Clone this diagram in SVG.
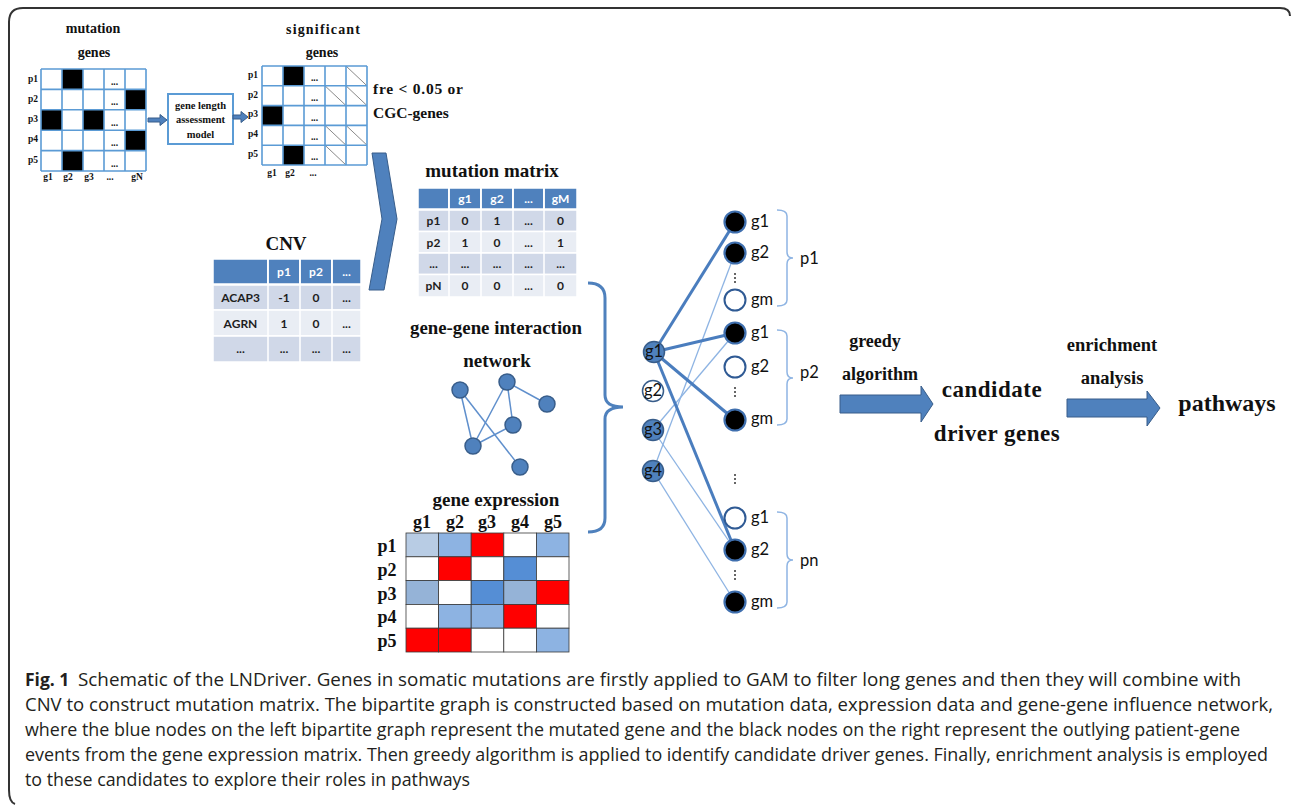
<svg xmlns="http://www.w3.org/2000/svg" width="1292" height="806" viewBox="0 0 1292 806">
  <style>
    .serif { font-family: "Liberation Serif", "Times New Roman", serif; font-weight: bold; fill: #111; }
    .sans { font-family: Lato, "Liberation Sans", Arial, sans-serif; font-weight: bold; }
    .tiny { font-size: 9.5px; }
    .grid { fill: none; stroke: #5b9bd5; stroke-width: 1.6; }
    .blk { fill: #000; }
    .diag { stroke: #8a8a8a; stroke-width: 1; }
    .hdr { fill: #4f81bd; stroke: #fff; stroke-width: 1.5; }
    .rowA { fill: #d0d8e8; stroke: #fff; stroke-width: 1.5; }
    .rowB { fill: #e9edf4; stroke: #fff; stroke-width: 1.5; }
    .htxt { fill: #fff; font-size: 12px; text-anchor: middle; }
    .btxt { fill: #1e1e1e; font-size: 12px; text-anchor: middle; }
    .blockarrow { fill: #4f81bd; stroke: #385d8a; stroke-width: 1; }
    .net-edge { stroke: #5f8fcc; stroke-width: 1.5; }
    .net-node { fill: #4f81bd; stroke: #385d8a; stroke-width: 1.5; }
    .thick { stroke: #4a7dbe; stroke-width: 3; }
    .thin { stroke: #8eb4e3; stroke-width: 1.3; }
    .lnode { stroke: #385d8a; stroke-width: 1.5; }
    .rblack { fill: #000; stroke: #3f6fae; stroke-width: 2.2; }
    .rwhite { fill: #fff; stroke: #2f5a94; stroke-width: 2; }
    .lbl { font-family: Lato, "Liberation Sans", Arial, sans-serif; font-size: 16.5px; fill: #111; }
    .brace { fill: none; stroke: #8eb4e3; stroke-width: 1.5; }
    .cap { font-family: "Open Sans", "Liberation Sans", Arial, sans-serif; font-size: 17.5px; fill: #231f20; }
    .hm { stroke: #3a3a3a; stroke-width: 0.8; }
  </style>

  <!-- outer frame -->
  <path d="M1290,16 Q1290,8 1280,8 L23,8 Q9,8 9,22 L9,790 Q9,802 15,804" fill="none" stroke="#333" stroke-width="2"/>

  <!-- mutation genes matrix -->
  <g id="mutation-genes">
    <text class="serif" x="93" y="33" font-size="14" text-anchor="middle">mutation</text>
    <text class="serif" x="94" y="57" font-size="14" text-anchor="middle">genes</text>
    <rect x="41" y="69" width="105" height="102" fill="#fff"/>
    <rect class="blk" x="62" y="69" width="21" height="20.4"/>
    <rect class="blk" x="125" y="89.4" width="21" height="20.4"/>
    <rect class="blk" x="41" y="109.8" width="21" height="20.4"/>
    <rect class="blk" x="83" y="109.8" width="21" height="20.4"/>
    <rect class="blk" x="125" y="130.2" width="21" height="20.4"/>
    <rect class="blk" x="62" y="150.6" width="21" height="20.4"/>
    <path class="grid" d="M41,69V171M62,69V171M83,69V171M104,69V171M125,69V171M146,69V171M41,69H146M41,89.4H146M41,109.8H146M41,130.2H146M41,150.6H146M41,171H146"/>
    <g class="serif tiny" text-anchor="middle">
      <text x="33" y="82">p1</text>
      <text x="33" y="102">p2</text>
      <text x="33" y="122">p3</text>
      <text x="33" y="142">p4</text>
      <text x="33" y="163">p5</text>
      <text x="48" y="180">g1</text>
      <text x="68" y="180">g2</text>
      <text x="89" y="180">g3</text>
      <text x="110" y="180">...</text>
      <text x="137" y="180">gN</text>
      <text x="114.5" y="85">...</text>
      <text x="114.5" y="105">...</text>
      <text x="114.5" y="126">...</text>
      <text x="114.5" y="146">...</text>
      <text x="114.5" y="167">...</text>
    </g>
  </g>

  <!-- gene length assessment model -->
  <g id="gam">
    <path class="blockarrow" d="M148,118 H160 V114.5 L167,120 L160,125.5 V122 H148 Z"/>
    <rect x="168" y="94" width="65" height="50" fill="#fff" stroke="#5b9bd5" stroke-width="2"/>
    <g class="serif" font-size="10.5" text-anchor="middle">
      <text x="200.5" y="109">gene length</text>
      <text x="200.5" y="123">assessment</text>
      <text x="200.5" y="138">model</text>
    </g>
    <path class="blockarrow" d="M233,115 H241 V111.5 L248,117 L241,122.5 V119 H233 Z"/>
  </g>

  <!-- significant genes matrix -->
  <g id="significant-genes">
    <text class="serif" x="323" y="34" font-size="14" text-anchor="middle" textLength="74" lengthAdjust="spacing">significant</text>
    <text class="serif" x="322" y="57" font-size="14" text-anchor="middle">genes</text>
    <rect x="262" y="66" width="105" height="99" fill="#fff"/>
    <rect class="blk" x="283" y="66" width="21" height="19.8"/>
    <rect class="blk" x="262" y="105.6" width="21" height="19.8"/>
    <rect class="blk" x="283" y="145.2" width="21" height="19.8"/>
    <g class="diag">
      <line x1="346" y1="66" x2="367" y2="85.8"/>
      <line x1="325" y1="85.8" x2="346" y2="105.6"/>
      <line x1="346" y1="85.8" x2="367" y2="105.6"/>
      <line x1="325" y1="125.4" x2="346" y2="145.2"/>
      <line x1="346" y1="125.4" x2="367" y2="145.2"/>
      <line x1="325" y1="145.2" x2="346" y2="165"/>
    </g>
    <path class="grid" d="M262,66V165M283,66V165M304,66V165M325,66V165M346,66V165M367,66V165M262,66H367M262,85.8H367M262,105.6H367M262,125.4H367M262,145.2H367M262,165H367"/>
    <g class="serif tiny" text-anchor="middle">
      <text x="253" y="78">p1</text>
      <text x="253" y="98">p2</text>
      <text x="253" y="117">p3</text>
      <text x="253" y="137">p4</text>
      <text x="253" y="157">p5</text>
      <text x="272" y="176">g1</text>
      <text x="290" y="176">g2</text>
      <text x="313" y="176">...</text>
      <text x="314.5" y="81">...</text>
      <text x="314.5" y="101">...</text>
      <text x="314.5" y="121">...</text>
      <text x="314.5" y="140">...</text>
      <text x="314.5" y="160">...</text>
    </g>
    <text class="serif" x="373" y="94" font-size="15.5" textLength="90" lengthAdjust="spacing">fre &lt; 0.05 or</text>
    <text class="serif" x="373" y="118" font-size="15.5">CGC-genes</text>
  </g>

  <!-- merge chevron -->
  <g id="merge-chevron">
    <path class="blockarrow" d="M372,153 L386,153 L397,219 L384,290 L369,290 L382,219 Z"/>
  </g>

  <!-- mutation matrix table -->
  <g id="mutation-matrix">
    <text class="serif" x="492" y="177" font-size="19" text-anchor="middle">mutation matrix</text>
    <rect class="hdr" x="418" y="188" width="31" height="21"/>
    <rect class="hdr" x="449" y="188" width="32" height="21"/>
    <rect class="hdr" x="481" y="188" width="32" height="21"/>
    <rect class="hdr" x="513" y="188" width="31" height="21"/>
    <rect class="hdr" x="544" y="188" width="33" height="21"/>
    <rect class="rowA" x="418" y="210" width="159" height="21.5"/>
    <rect class="rowB" x="418" y="231.5" width="159" height="21.5"/>
    <rect class="rowA" x="418" y="253" width="159" height="21.5"/>
    <rect class="rowB" x="418" y="274.5" width="159" height="22.5"/>
    <path d="M449,188V297M481,188V297M513,188V297M544,188V297" stroke="#fff" stroke-width="1.5"/>
    <g class="sans htxt">
      <text x="465" y="203">g1</text>
      <text x="497" y="203">g2</text>
      <text x="528.5" y="203">...</text>
      <text x="560.5" y="203">gM</text>
    </g>
    <g class="sans btxt">
      <text x="433.5" y="225">p1</text><text x="465" y="225">0</text><text x="497" y="225">1</text><text x="528.5" y="225">...</text><text x="560.5" y="225">0</text>
      <text x="433.5" y="247">p2</text><text x="465" y="247">1</text><text x="497" y="247">0</text><text x="528.5" y="247">...</text><text x="560.5" y="247">1</text>
      <text x="433.5" y="268">...</text><text x="465" y="268">...</text><text x="497" y="268">...</text><text x="528.5" y="268">...</text><text x="560.5" y="268">...</text>
      <text x="433.5" y="290">pN</text><text x="465" y="290">0</text><text x="497" y="290">0</text><text x="528.5" y="290">...</text><text x="560.5" y="290">0</text>
    </g>
  </g>

  <!-- CNV table -->
  <g id="cnv">
    <text class="serif" x="286" y="250" font-size="19" text-anchor="middle">CNV</text>
    <rect class="hdr" x="213" y="259" width="55" height="25"/>
    <rect class="hdr" x="268" y="259" width="32" height="25"/>
    <rect class="hdr" x="300" y="259" width="32" height="25"/>
    <rect class="hdr" x="332" y="259" width="29" height="25"/>
    <rect class="rowA" x="213" y="285" width="148" height="25"/>
    <rect class="rowB" x="213" y="310" width="148" height="26"/>
    <rect class="rowA" x="213" y="336" width="148" height="26"/>
    <path d="M268,259V362M300,259V362M332,259V362" stroke="#fff" stroke-width="1.5"/>
    <g class="sans htxt" font-size="13.5">
      <text x="284" y="276">p1</text>
      <text x="316" y="276">p2</text>
      <text x="346.5" y="276">...</text>
    </g>
    <g class="sans btxt" font-size="13.5">
      <text x="240.5" y="302">ACAP3</text><text x="284" y="302">-1</text><text x="316" y="302">0</text><text x="346.5" y="302">...</text>
      <text x="240.5" y="328">AGRN</text><text x="284" y="328">1</text><text x="316" y="328">0</text><text x="346.5" y="328">...</text>
      <text x="240.5" y="353">...</text><text x="284" y="353">...</text><text x="316" y="353">...</text><text x="346.5" y="353">...</text>
    </g>
  </g>

  <!-- gene-gene interaction network -->
  <g id="interaction-network">
    <text class="serif" x="496" y="334" font-size="19" text-anchor="middle" textLength="172" lengthAdjust="spacingAndGlyphs">gene-gene interaction</text>
    <text class="serif" x="497" y="367" font-size="19" text-anchor="middle">network</text>
    <g class="net-edge">
      <line x1="460" y1="390" x2="473" y2="446"/>
      <line x1="460" y1="390" x2="520" y2="467"/>
      <line x1="507" y1="382" x2="473" y2="446"/>
      <line x1="507" y1="382" x2="513" y2="425"/>
      <line x1="507" y1="382" x2="547" y2="404"/>
      <line x1="473" y1="446" x2="513" y2="425"/>
    </g>
    <circle class="net-node" cx="460" cy="390" r="8"/>
    <circle class="net-node" cx="507" cy="382" r="8"/>
    <circle class="net-node" cx="547" cy="404" r="8"/>
    <circle class="net-node" cx="513" cy="425" r="8"/>
    <circle class="net-node" cx="473" cy="446" r="8"/>
    <circle class="net-node" cx="520" cy="467" r="8"/>
  </g>

  <!-- gene expression heatmap -->
  <g id="gene-expression">
    <text class="serif" x="496" y="506" font-size="19" text-anchor="middle">gene expression</text>
    <g class="serif" font-size="18" text-anchor="middle">
      <text x="422" y="528">g1</text>
      <text x="455" y="528">g2</text>
      <text x="487" y="528">g3</text>
      <text x="520" y="528">g4</text>
      <text x="553" y="528">g5</text>
      <text x="387" y="552">p1</text>
      <text x="387" y="576">p2</text>
      <text x="387" y="600">p3</text>
      <text x="387" y="623">p4</text>
      <text x="387" y="647">p5</text>
    </g>
    <g class="hm">
      <rect x="406" y="533" width="32.6" height="23.8" fill="#b8cce4"/>
      <rect x="438.6" y="533" width="32.6" height="23.8" fill="#8db3e2"/>
      <rect x="471.2" y="533" width="32.6" height="23.8" fill="#ff0000"/>
      <rect x="503.8" y="533" width="32.6" height="23.8" fill="#ffffff"/>
      <rect x="536.4" y="533" width="32.6" height="23.8" fill="#8db3e2"/>

      <rect x="406" y="556.8" width="32.6" height="23.8" fill="#ffffff"/>
      <rect x="438.6" y="556.8" width="32.6" height="23.8" fill="#ff0000"/>
      <rect x="471.2" y="556.8" width="32.6" height="23.8" fill="#ffffff"/>
      <rect x="503.8" y="556.8" width="32.6" height="23.8" fill="#558ed5"/>
      <rect x="536.4" y="556.8" width="32.6" height="23.8" fill="#ffffff"/>

      <rect x="406" y="580.6" width="32.6" height="23.8" fill="#95b3d7"/>
      <rect x="438.6" y="580.6" width="32.6" height="23.8" fill="#ffffff"/>
      <rect x="471.2" y="580.6" width="32.6" height="23.8" fill="#558ed5"/>
      <rect x="503.8" y="580.6" width="32.6" height="23.8" fill="#95b3d7"/>
      <rect x="536.4" y="580.6" width="32.6" height="23.8" fill="#ff0000"/>

      <rect x="406" y="604.4" width="32.6" height="23.8" fill="#ffffff"/>
      <rect x="438.6" y="604.4" width="32.6" height="23.8" fill="#8db3e2"/>
      <rect x="471.2" y="604.4" width="32.6" height="23.8" fill="#8db3e2"/>
      <rect x="503.8" y="604.4" width="32.6" height="23.8" fill="#ff0000"/>
      <rect x="536.4" y="604.4" width="32.6" height="23.8" fill="#ffffff"/>

      <rect x="406" y="628.2" width="32.6" height="23.8" fill="#ff0000"/>
      <rect x="438.6" y="628.2" width="32.6" height="23.8" fill="#ff0000"/>
      <rect x="471.2" y="628.2" width="32.6" height="23.8" fill="#ffffff"/>
      <rect x="503.8" y="628.2" width="32.6" height="23.8" fill="#ffffff"/>
      <rect x="536.4" y="628.2" width="32.6" height="23.8" fill="#8db3e2"/>
    </g>
  </g>

  <!-- brace joining the inputs -->
  <g id="input-brace">
    <path d="M588,283 Q605,283 605,298 L605,395 Q605,407 623,407 Q605,407 605,419 L605,518 Q605,532 588,532" fill="none" stroke="#4f81bd" stroke-width="3"/>
  </g>

  <!-- bipartite graph edges -->
  <g id="connectors">
    <line class="thin" x1="735" y1="253" x2="653" y2="471"/>
    <line class="thin" x1="735" y1="333" x2="653" y2="430"/>
    <line class="thin" x1="653" y1="430" x2="735" y2="550"/>
    <line class="thin" x1="653" y1="471" x2="735" y2="602"/>
    <line class="thick" x1="654" y1="352" x2="735" y2="222"/>
    <line class="thick" x1="654" y1="352" x2="735" y2="333"/>
    <line class="thick" x1="654" y1="352" x2="735" y2="420"/>
    <line class="thick" x1="654" y1="352" x2="735" y2="550"/>
  </g>

  <!-- mutated genes (left side) -->
  <g id="left-g1"><circle class="lnode" cx="654" cy="352" r="10.5" fill="#4f81bd"/><text class="lbl" x="654" y="357" font-size="14" text-anchor="middle">g1</text></g>
  <g id="left-g2"><circle class="lnode" cx="653" cy="391" r="10.5" fill="#fff"/><text class="lbl" x="653" y="396" font-size="14" text-anchor="middle">g2</text></g>
  <g id="left-g3"><circle class="lnode" cx="653" cy="430" r="10.5" fill="#4f81bd"/><text class="lbl" x="653" y="435" font-size="14" text-anchor="middle">g3</text></g>
  <g id="left-g4"><circle class="lnode" cx="653" cy="471" r="10.5" fill="#4f81bd"/><text class="lbl" x="653" y="476" font-size="14" text-anchor="middle">g4</text></g>

  <!-- patient p1 -->
  <g id="p1-group">
    <circle class="rblack" cx="735" cy="222" r="10.5"/><text class="lbl" x="751" y="227">g1</text>
    <circle class="rblack" cx="735" cy="253" r="10.5"/><text class="lbl" x="751" y="258">g2</text>
    <circle cx="735" cy="274" r="1" fill="#333"/><circle cx="735" cy="278" r="1" fill="#333"/><circle cx="735" cy="282" r="1" fill="#333"/>
    <circle class="rwhite" cx="735" cy="300" r="10.5"/><text class="lbl" x="751" y="305">gm</text>
    <path class="brace" d="M777,210 Q787,210 787,216 L787,252 Q787,258 793,258 Q787,258 787,264 L787,300 Q787,306 777,306"/>
    <text class="lbl" x="800" y="264">p1</text>
  </g>

  <!-- patient p2 -->
  <g id="p2-group">
    <circle class="rblack" cx="735" cy="333" r="10.5"/><text class="lbl" x="751" y="338">g1</text>
    <circle class="rwhite" cx="735" cy="367" r="10.5"/><text class="lbl" x="751" y="372">g2</text>
    <circle cx="735" cy="388" r="1" fill="#333"/><circle cx="735" cy="392" r="1" fill="#333"/><circle cx="735" cy="396" r="1" fill="#333"/>
    <circle class="rblack" cx="735" cy="420" r="10.5"/><text class="lbl" x="751" y="424">gm</text>
    <path class="brace" d="M777,330 Q787,330 787,336 L787,372 Q787,378 793,378 Q787,378 787,384 L787,419 Q787,425 777,425"/>
    <text class="lbl" x="800" y="378">p2</text>
  </g>

  <g id="ellipsis">
    <circle cx="735" cy="475" r="1" fill="#333"/><circle cx="735" cy="479" r="1" fill="#333"/><circle cx="735" cy="483" r="1" fill="#333"/>
  </g>

  <!-- patient pn -->
  <g id="pn-group">
    <circle class="rwhite" cx="735" cy="518" r="10.5"/><text class="lbl" x="751" y="523">g1</text>
    <circle class="rblack" cx="735" cy="550" r="10.5"/><text class="lbl" x="751" y="555">g2</text>
    <circle cx="735" cy="571" r="1" fill="#333"/><circle cx="735" cy="575" r="1" fill="#333"/><circle cx="735" cy="579" r="1" fill="#333"/>
    <circle class="rblack" cx="735" cy="602" r="10.5"/><text class="lbl" x="751" y="607">gm</text>
    <path class="brace" d="M777,512 Q787,512 787,518 L787,554 Q787,560 793,560 Q787,560 787,566 L787,602 Q787,608 777,608"/>
    <text class="lbl" x="800" y="566">pn</text>
  </g>

  <!-- greedy algorithm step -->
  <g id="greedy-step">
    <text class="serif" x="875" y="347" font-size="18" text-anchor="middle">greedy</text>
    <text class="serif" x="880" y="380" font-size="18" text-anchor="middle">algorithm</text>
    <path class="blockarrow" d="M840,395 H921 V386 L933,404 L921,422 V413 H840 Z"/>
  </g>

  <g id="candidate-genes">
    <text class="serif" x="992" y="397" font-size="23" text-anchor="middle" letter-spacing="0.5">candidate</text>
    <text class="serif" x="997" y="441" font-size="23" text-anchor="middle" letter-spacing="0.5">driver genes</text>
  </g>

  <!-- enrichment analysis step -->
  <g id="enrichment-step">
    <text class="serif" x="1112" y="351" font-size="18.5" text-anchor="middle">enrichment</text>
    <text class="serif" x="1112" y="384" font-size="18.5" text-anchor="middle">analysis</text>
    <path class="blockarrow" d="M1067,399 H1147 V391 L1160,408 L1147,426 V417 H1067 Z"/>
  </g>

  <g id="pathways">
    <text class="serif" x="1227" y="411" font-size="24" text-anchor="middle">pathways</text>
  </g>

  <!-- caption -->
  <g id="caption" class="cap">
    <text x="25" y="686" font-weight="bold">Fig. 1</text>
    <text x="78" y="686" textLength="1163" lengthAdjust="spacingAndGlyphs">Schematic of the LNDriver. Genes in somatic mutations are firstly applied to GAM to filter long genes and then they will combine with</text>
    <text x="25" y="711" textLength="1248" lengthAdjust="spacingAndGlyphs">CNV to construct mutation matrix. The bipartite graph is constructed based on mutation data, expression data and gene-gene influence network,</text>
    <text x="25" y="736" textLength="1215" lengthAdjust="spacingAndGlyphs">where the blue nodes on the left bipartite graph represent the mutated gene and the black nodes on the right represent the outlying patient-gene</text>
    <text x="25" y="761" textLength="1243" lengthAdjust="spacingAndGlyphs">events from the gene expression matrix. Then greedy algorithm is applied to identify candidate driver genes. Finally, enrichment analysis is employed</text>
    <text x="25" y="786" textLength="445" lengthAdjust="spacingAndGlyphs">to these candidates to explore their roles in pathways</text>
  </g>
</svg>
